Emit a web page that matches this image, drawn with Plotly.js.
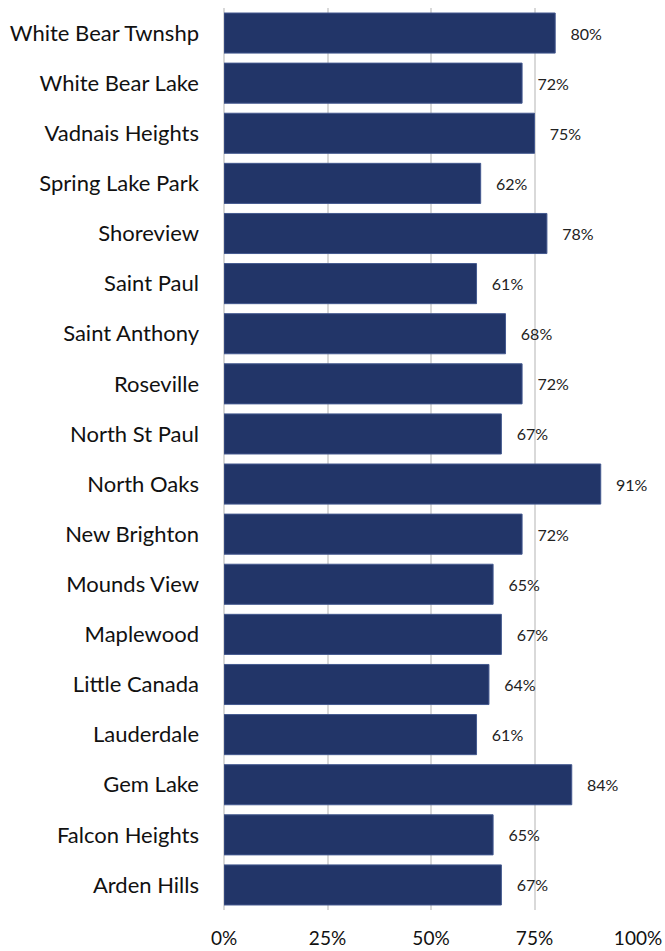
<!DOCTYPE html>
<html>
<head>
<meta charset="utf-8">
<script src="https://cdn.plot.ly/plotly-3.0.1.min.js"></script>
<style>html,body{margin:0;padding:0;background:#fff;}#chart{width:665px;height:951px;}</style>
</head>
<body>
<div id="chart"></div>
<script>
const cities = ["White Bear Twnshp","White Bear Lake","Vadnais Heights","Spring Lake Park","Shoreview","Saint Paul","Saint Anthony","Roseville","North St Paul","North Oaks","New Brighton","Mounds View","Maplewood","Little Canada","Lauderdale","Gem Lake","Falcon Heights","Arden Hills"];
const percents = [80,72,75,62,78,61,68,72,67,91,72,65,67,64,61,84,65,67];
const xTickVals = [0,25,50,75,100];
const xTickText = ["0%","25%","50%","75%","100%"];

const trace = {
  type: 'bar',
  orientation: 'h',
  x: percents,
  y: cities,
  marker: {color: '#223568', line: {color: '#44598f', width: 1}},
  text: percents.map(v => v + '%'),
  texttemplate: '   %{text}',
  textposition: 'outside',
  constraintext: 'none',
  cliponaxis: false,
  textfont: {family: 'Lato, sans-serif', size: 16, color: '#222'},
  hoverinfo: 'none'
};

const layout = {
  width: 665, height: 951,
  margin: {l: 224, r: 27, t: 8, b: 41},
  paper_bgcolor: '#fff', plot_bgcolor: '#fff',
  bargap: 0.2,
  showlegend: false,
  font: {family: 'Lato, sans-serif', color: '#111'},
  xaxis: {
    range: [0, 100], tickvals: xTickVals, ticktext: xTickText,
    showgrid: true, gridcolor: '#d9d9d9', gridwidth: 2,
    zeroline: true, zerolinecolor: '#d9d9d9', zerolinewidth: 2,
    showline: false, ticks: '',
    ticklabelstandoff: 15,
    tickfont: {size: 19, color: '#111'}, fixedrange: true
  },
  yaxis: {
    autorange: 'reversed', type: 'category',
    showgrid: false, zeroline: false, showline: false, ticks: '',
    ticklabelstandoff: 24,
    tickfont: {size: 22, color: '#111'}
  }
};

Plotly.newPlot('chart', [trace], layout, {displayModeBar: false, staticPlot: true});
</script>
</body>
</html>
